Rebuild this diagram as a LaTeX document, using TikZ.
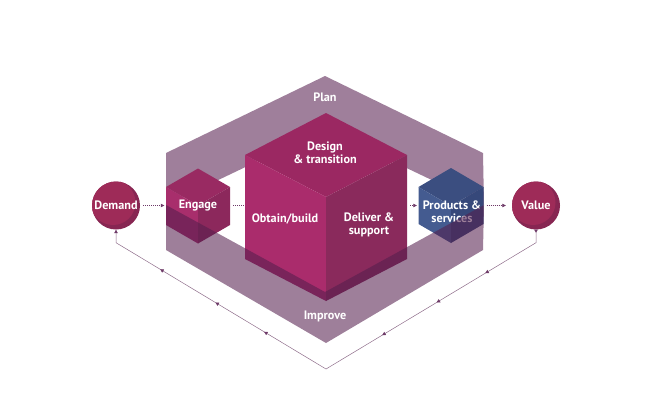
\documentclass[tikz,border=0pt]{standalone}
\usepackage{fontspec}
\setmainfont{PT Sans}
\usetikzlibrary{arrows.meta,decorations.markings}
\definecolor{band}{HTML}{9F7F9B}
\definecolor{bandfront}{HTML}{541E4D}
\definecolor{bigtop}{HTML}{9B2862}
\definecolor{bigleft}{HTML}{AA2C6C}
\definecolor{bigright}{HTML}{8A2A5C}
\definecolor{engtop}{HTML}{992A62}
\definecolor{engleft}{HTML}{A82E6C}
\definecolor{engright}{HTML}{8C285C}
\definecolor{prodtop}{HTML}{3B4E80}
\definecolor{prodleft}{HTML}{445B90}
\definecolor{prodright}{HTML}{36487A}
\definecolor{goalred}{HTML}{9E2B58}
\definecolor{goaldark}{HTML}{872652}
\definecolor{loopline}{HTML}{8E6C8A}
\definecolor{looptip}{HTML}{6E3A68}

% front corner x, y, half width, rise of top face, edge length, colour prefix
\newcommand{\isocube}[6]{%
  \fill[#6top] (#1,#2) -- (#1-#3,#2-#4) -- (#1,#2-2*#4) -- (#1+#3,#2-#4) -- cycle;
  \fill[#6left] (#1,#2) -- (#1-#3,#2-#4) -- (#1-#3,#2-#4+#5) -- (#1,#2+#5) -- cycle;
  \fill[#6right] (#1,#2) -- (#1+#3,#2-#4) -- (#1+#3,#2-#4+#5) -- (#1,#2+#5) -- cycle;
}

\begin{document}
\begin{tikzpicture}[x=1pt, y=-1pt,
    txt/.style={text=white, font=\bfseries\fontsize{12.2}{12.8}\selectfont, align=center, inner sep=0pt},
    cubebox/.style={txt, minimum height=75pt},
    goal/.style={circle, txt, minimum size=48pt, fill=goaldark,
      path picture={\fill[goalred] ([xshift=-3pt,yshift=3pt]path picture bounding box.center) circle (22.5pt);}},
    flow/.style={draw=looptip, line width=0.6pt, dash pattern=on 1pt off 1pt,
      -{Triangle[length=3.5pt,width=3.5pt]}, shorten <=3pt, shorten >=1.5pt},
    loopback/.style={draw=loopline, line width=0.5pt,
      {Triangle[reversed,length=3pt,width=3.5pt,color=looptip]}-{Triangle[length=3.5pt,width=3.5pt,color=looptip]},
      decoration={markings,
        mark=at position 0.14 with {\arrow[looptip]{Triangle[length=3.5pt,width=3.5pt]}},
        mark=at position 0.25 with {\arrow[looptip]{Triangle[length=3.5pt,width=3.5pt]}},
        mark=at position 0.373 with {\arrow[looptip]{Triangle[length=3.5pt,width=3.5pt]}},
        mark=at position 0.64 with {\arrow[looptip]{Triangle[length=3.5pt,width=3.5pt]}},
        mark=at position 0.75 with {\arrow[looptip]{Triangle[length=3.5pt,width=3.5pt]}},
        mark=at position 0.875 with {\arrow[looptip]{Triangle[length=3.5pt,width=3.5pt]}}},
      postaction={decorate}},
]
\useasboundingbox (0,0) rectangle (672,408);

% plan part of the ring, behind the cubes
\fill[band] (166,205) -- (166,153) -- (325,76) -- (483,153) -- (484,205) -- (325,129) -- cycle;

\isocube{198}{205.5}{32}{18.5}{38}{eng}
\isocube{326}{197}{81}{42}{104}{big}
\isocube{451}{206}{32.5}{19}{37}{prod}

\node[cubebox, minimum width=64pt] (engage) at (198,205.5) {Engage};
\node[cubebox, minimum width=162pt] (core) at (326,205.5) {};
\node[cubebox, minimum width=65pt] (products) at (451,205.5) {};
\node[txt] (design) at (325,152.5) {Design\\\& transition};
\node[txt] (obtain) at (285,219) {Obtain/build};
\node[txt] (deliver) at (369,225) {Deliver \&\\support};
\node[txt] (prodtext) at (452,212) {Products \&\\services};

\node[goal] (demand) at (116,205.5) {Demand};
\node[goal] (value) at (536,205.5) {Value};

% improve part of the ring, in front
\fill[bandfront, fill opacity=0.57] (166,205) -- (325,292) -- (484,205) -- (483,250) -- (326,343) -- (166,250) -- cycle;

\node[txt] (plan) at (325,97) {Plan};
\node[txt] (improve) at (325,316) {Improve};

\draw[flow] (demand) -- (engage);
\draw[flow, -] (engage) -- (core);
\draw[flow] (core) -- (products);
\draw[flow, shorten >=6pt] (products) -- (value);

\coordinate (turn) at (326,369);
\draw[loopback] (value.south) -- ([yshift=-13pt]value.south) -- (turn)
  -- ([yshift=-13pt]demand.south) -- (demand.south);

\end{tikzpicture}
\end{document}
